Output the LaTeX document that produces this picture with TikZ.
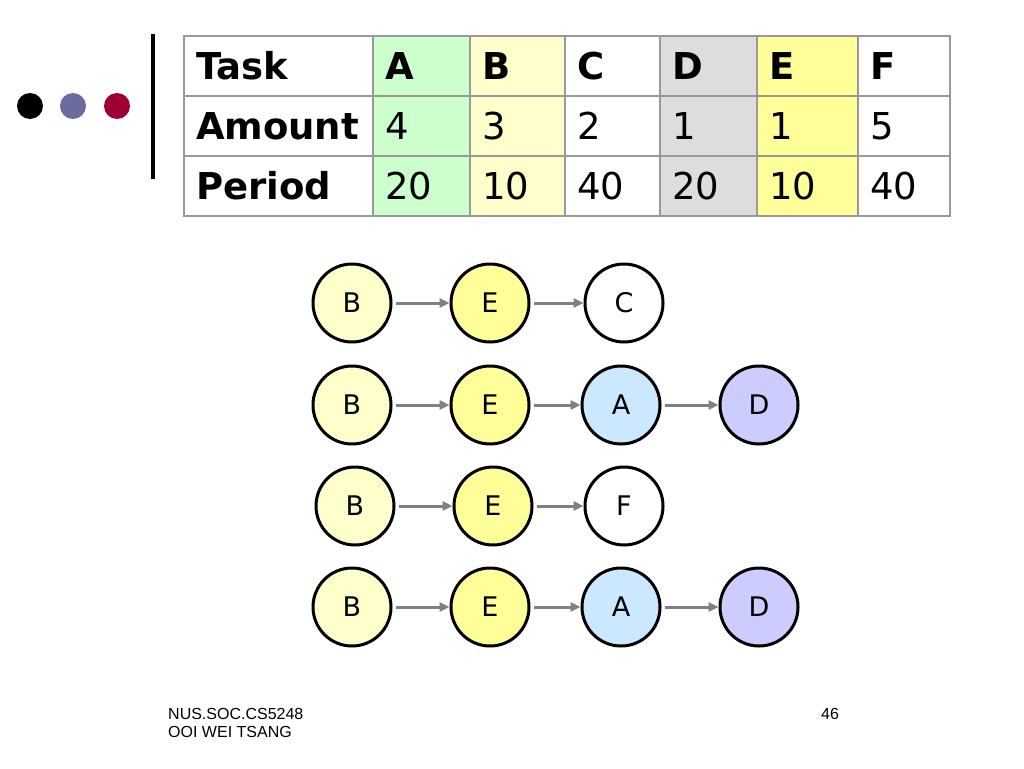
\documentclass[tikz,border=0pt]{standalone}
\usepackage{fontspec}
\setmainfont{DejaVu Sans}
\newfontfamily\footfont{Liberation Sans}
\usetikzlibrary{positioning, arrows.meta}
\definecolor{colA}{HTML}{CCFFCC}
\definecolor{colB}{HTML}{FFFFCC}
\definecolor{colD}{HTML}{DDDDDD}
\definecolor{colE}{HTML}{FFFF99}
\definecolor{nodeA}{HTML}{CCE8FF}
\definecolor{nodeD}{HTML}{CCCCFF}
\definecolor{dotblue}{HTML}{6B6BA0}
\definecolor{dotred}{HTML}{9E0033}
\tikzstyle{cell} = [rectangle, anchor=north west, draw=black!40, line width=1.5pt, outer sep=0pt, minimum height=60pt, inner xsep=12pt, inner ysep=0pt, align=left, text height=27pt, text depth=0pt, font=\fontsize{37}{37}\selectfont]
\tikzstyle{task} = [circle, draw=black, line width=3pt, minimum size=78pt, inner sep=0pt, font=\fontsize{27}{27}\selectfont]
\tikzstyle{arrow} = [line width=3pt, draw=black!50, -{Triangle[length=10pt,width=9pt]}, shorten <=3pt]
\tikzstyle{foot} = [anchor=base west, inner sep=0pt, font=\footfont\fontsize{16}{16}\selectfont]

\begin{document}
\begin{tikzpicture}[x=1pt, y=-1pt]
	\useasboundingbox (0,0) rectangle (1024,768);
	% slide decoration
	\fill[black] (30,106) circle (13);
	\fill[dotblue] (73,106) circle (13);
	\fill[dotred] (117,106) circle (13);
	\draw[line width=4.5pt] (153,34) -- (153,179);
	% table
	\node (tTask) [cell, text width=165pt, fill=white] at (184,36) {\bfseries Task};
	\node (aTask) [cell, text width=165pt, fill=white] at (184,96) {\bfseries Amount};
	\node (pTask) [cell, text width=165pt, fill=white] at (184,156) {\bfseries Period};
	\foreach \n/\x/\w/\c/\am/\pe in {A/373/97/colA/4/20, B/470/95/colB/3/10, C/565/95/white/2/40, D/660/97/colD/1/20, E/757/101/colE/1/10, F/858/92/white/5/40}
	{
		\pgfmathsetmacro\tw{\w-24}
		\node (t\n) [cell, text width=\tw pt, fill=\c] at (\x,36) {\bfseries \n};
		\node (a\n) [cell, text width=\tw pt, fill=\c] at (\x,96) {\am};
		\node (p\n) [cell, text width=\tw pt, fill=\c] at (\x,156) {\pe};
	}
	% chains
	\node (b1) [task, fill=colB] at (352,303) {B};
	\node (e1) [task, fill=colE, right=57pt of b1] {E};
	\node (c1) [task, fill=white, right=53pt of e1] {C};
	\node (b2) [task, fill=colB] at (352,405) {B};
	\node (e2) [task, fill=colE, right=57pt of b2] {E};
	\node (a2) [task, fill=nodeA, right=50pt of e2] {A};
	\node (d2) [task, fill=nodeD, right=57pt of a2] {D};
	\node (b3) [task, fill=colB] at (355,506) {B};
	\node (e3) [task, fill=colE, right=57pt of b3] {E};
	\node (f3) [task, fill=white, right=50pt of e3] {F};
	\node (b4) [task, fill=colB] at (352,607) {B};
	\node (e4) [task, fill=colE, right=57pt of b4] {E};
	\node (a4) [task, fill=nodeA, right=50pt of e4] {A};
	\node (d4) [task, fill=nodeD, right=57pt of a4] {D};
	\draw [arrow] (b1) -- (e1);
	\draw [arrow] (e1) -- (c1);
	\draw [arrow] (b2) -- (e2);
	\draw [arrow] (e2) -- (a2);
	\draw [arrow] (a2) -- (d2);
	\draw [arrow] (b3) -- (e3);
	\draw [arrow] (e3) -- (f3);
	\draw [arrow] (b4) -- (e4);
	\draw [arrow] (e4) -- (a4);
	\draw [arrow] (a4) -- (d4);
	% footer
	\node (course) [foot] at (168,719) {NUS.SOC.CS5248};
	\node (author) [foot] at (168,737) {OOI WEI TSANG};
	\node (page) [foot] at (821,719) {46};
\end{tikzpicture}
\end{document}
